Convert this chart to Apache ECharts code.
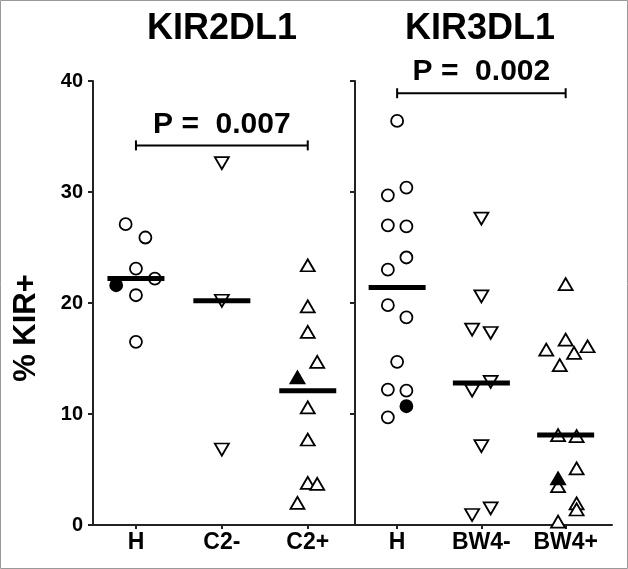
<!DOCTYPE html>
<html>
<head>
<meta charset="utf-8">
<script src="https://cdn.jsdelivr.net/npm/echarts@6/dist/echarts.min.js"></script>
<style>
html, body { margin: 0; padding: 0; background: #fff; }
#chart { width: 628px; height: 569px; }
</style>
</head>
<body>
<div id="chart"></div>
<script>
const leftCategories = ['H', 'C2-', 'C2+'];
const rightCategories = ['H', 'BW4-', 'BW4+'];
const panelTitles = ['KIR2DL1', 'KIR3DL1'];
const pLabels = ['P =  0.007', 'P =  0.002'];
const bracketLevels = [34.2, 38.9];

// KIR2DL1 panel
const kir2H = [27.1, 25.9, 23.1, 22.2, 20.7, 16.5];
const kir2HJitter = [-0.12, 0.11, 0, 0.22, 0, 0];
const kir2HFilled = [21.6];
const kir2HFilledJitter = [-0.23];
const kir2C2Minus = [32.6, 20.2, 6.8];
const kir2C2MinusJitter = [0, 0, 0];
const kir2C2Plus = [23.4, 19.7, 17.4, 14.7, 10.6, 7.7, 3.8, 3.7, 2.0];
const kir2C2PlusJitter = [0, 0, 0, 0.11, 0, 0, 0, 0.11, -0.12];
const kir2C2PlusFilled = [13.3];
const kir2C2PlusFilledJitter = [-0.12];
const kir2Medians = [22.2, 20.2, 12.1];

// KIR3DL1 panel
const kir3H = [36.4, 30.4, 29.7, 27.0, 26.9, 24.1, 23.0, 19.8, 18.7, 14.7, 12.2, 12.1, 9.7];
const kir3HJitter = [0, 0.11, -0.11, -0.11, 0.11, 0.11, -0.11, -0.11, 0.11, 0, -0.11, 0.11, -0.11];
const kir3HFilled = [10.7];
const kir3HFilledJitter = [0.11];
const kir3Bw4Minus = [27.6, 20.6, 17.6, 17.3, 12.9, 12.1, 7.1, 1.5, 0.9];
const kir3Bw4MinusJitter = [0, 0, -0.11, 0.11, 0.11, -0.11, 0, 0.11, -0.11];
const kir3Bw4Plus = [21.7, 16.7, 15.8, 16.1, 15.5, 14.4, 8.1, 8.0, 5.1, 3.5, 1.95, 1.4, 0.3];
const kir3Bw4PlusJitter = [0, 0, -0.23, 0.26, 0.1, -0.07, -0.09, 0.13, 0.13, -0.09, 0.13, 0.13, -0.09];
const kir3Bw4PlusFilled = [4.2];
const kir3Bw4PlusFilledJitter = [-0.09];
const kir3Medians = [21.4, 12.8, 8.1];

const font = 'Liberation Sans, Arial, sans-serif';
const openStyle = { color: '#fff', borderColor: '#000', borderWidth: 1.8, opacity: 1 };
const filledStyle = { color: '#000', borderColor: '#000', borderWidth: 1.8, opacity: 1 };

function points(cat, values, jitter) {
  return values.map((v, i) => [cat + jitter[i], v]);
}

function markers(grid, data, symbol, filled, rotate) {
  return {
    type: 'scatter',
    xAxisIndex: grid,
    yAxisIndex: grid,
    data: data,
    symbol: symbol,
    symbolSize: symbol === 'circle' ? 12 : [14, 12],
    symbolRotate: rotate || 0,
    itemStyle: filled ? filledStyle : openStyle,
    z: filled ? 3 : 2,
    silent: true,
  };
}

function medianBars(grid, medians) {
  return {
    type: 'scatter',
    xAxisIndex: grid,
    yAxisIndex: grid,
    data: medians.map((m, i) => [i, m]),
    symbol: 'rect',
    symbolSize: [57, 5],
    itemStyle: { color: '#000', opacity: 1 },
    z: 5,
    silent: true,
  };
}

function bracket(grid) {
  const level = bracketLevels[grid];
  return [{
    type: 'line',
    xAxisIndex: grid,
    yAxisIndex: grid,
    data: [[0, level], [2, level]],
    symbol: 'rect',
    symbolSize: [2, 10],
    showSymbol: true,
    lineStyle: { color: '#000', width: 2 },
    itemStyle: { color: '#000', opacity: 1 },
    silent: true,
  }, {
    type: 'scatter',
    xAxisIndex: grid,
    yAxisIndex: grid,
    data: [[1, level]],
    symbolSize: 0,
    itemStyle: { opacity: 1 },
    label: {
      show: true,
      position: 'top',
      distance: 6,
      formatter: pLabels[grid],
      fontFamily: font,
      fontWeight: 'bold',
      fontSize: 30,
      color: '#000',
      opacity: 1,
    },
    silent: true,
  }];
}

function xAxis(grid, cats) {
  return {
    type: 'value',
    gridIndex: grid,
    min: -0.5,
    max: 2.55,
    splitLine: { show: false },
    axisLine: { show: true, onZero: false, lineStyle: { color: '#222', width: 2 } },
    axisTick: { show: true, customValues: [0, 1, 2], length: 4, lineStyle: { color: '#222', width: 2 } },
    axisLabel: {
      customValues: [0, 1, 2],
      formatter: (v) => cats[Math.round(v)],
      margin: 6,
      fontFamily: font,
      fontWeight: 'bold',
      fontSize: 23,
      color: '#000',
    },
  };
}

function yAxis(grid) {
  return {
    type: 'value',
    gridIndex: grid,
    min: 0,
    max: 40,
    interval: 10,
    splitLine: { show: false },
    axisLine: { show: true, onZero: false, lineStyle: { color: '#222', width: 2 } },
    axisTick: { show: true, length: 5, lineStyle: { color: '#222', width: 2 } },
    axisLabel: {
      show: grid === 0,
      margin: 10,
      fontFamily: font,
      fontWeight: 'bold',
      fontSize: 20,
      color: '#000',
    },
    name: grid === 0 ? '% KIR+' : '',
    nameLocation: 'middle',
    nameRotate: 90,
    nameGap: 51,
    nameTextStyle: {
      fontFamily: font,
      fontWeight: 'bold',
      fontSize: 31,
      color: '#000',
      padding: [0, 50, 0, 0],
    },
  };
}

const chart = echarts.init(document.getElementById('chart'), null, { renderer: 'canvas' });

chart.setOption({
  animation: false,
  backgroundColor: '#fff',
  title: [
    { text: panelTitles[0], left: 217, top: 6, textAlign: 'center',
      textStyle: { fontFamily: font, fontWeight: 'bold', fontSize: 36, color: '#000' } },
    { text: panelTitles[1], left: 475, top: 6, textAlign: 'center',
      textStyle: { fontFamily: font, fontWeight: 'bold', fontSize: 36, color: '#000' } },
  ],
  grid: [
    { left: 93, top: 81, width: 262, bottom: 44 },
    { left: 355, top: 81, width: 257, bottom: 44 },
  ],
  xAxis: [xAxis(0, leftCategories), xAxis(1, rightCategories)],
  yAxis: [yAxis(0), yAxis(1)],
  graphic: [{
    type: 'rect',
    shape: { x: 0.5, y: 0.5, width: 627, height: 568 },
    style: { fill: 'none', stroke: '#999', lineWidth: 1 },
    silent: true,
  }],
  series: [
    markers(0, points(0, kir2H, kir2HJitter), 'circle', false),
    markers(0, points(0, kir2HFilled, kir2HFilledJitter), 'circle', true),
    markers(0, points(1, kir2C2Minus, kir2C2MinusJitter), 'triangle', false, 180),
    markers(0, points(2, kir2C2Plus, kir2C2PlusJitter), 'triangle', false),
    markers(0, points(2, kir2C2PlusFilled, kir2C2PlusFilledJitter), 'triangle', true),
    medianBars(0, kir2Medians),
    ...bracket(0),
    markers(1, points(0, kir3H, kir3HJitter), 'circle', false),
    markers(1, points(0, kir3HFilled, kir3HFilledJitter), 'circle', true),
    markers(1, points(1, kir3Bw4Minus, kir3Bw4MinusJitter), 'triangle', false, 180),
    markers(1, points(2, kir3Bw4Plus, kir3Bw4PlusJitter), 'triangle', false),
    markers(1, points(2, kir3Bw4PlusFilled, kir3Bw4PlusFilledJitter), 'triangle', true),
    medianBars(1, kir3Medians),
    ...bracket(1),
  ],
});
</script>
</body>
</html>
